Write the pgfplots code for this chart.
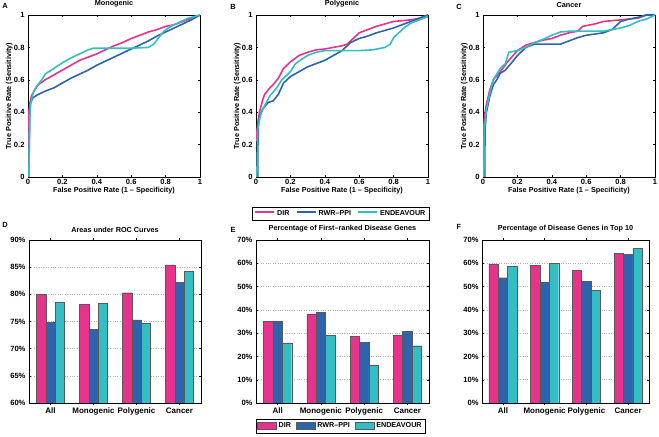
\documentclass[border=0pt]{standalone}
\usepackage{pgfplots}
\pgfplotsset{compat=1.18}
\usepackage{fontspec}
\setmainfont{Liberation Sans}

\definecolor{dirc}{RGB}{233,50,140}
\definecolor{rwrc}{RGB}{45,100,172}
\definecolor{endc}{RGB}{50,190,195}

\newcommand{\tf}{\bfseries\fontsize{7.6}{8}\selectfont}
\newcommand{\lf}{\bfseries\fontsize{7.3}{8}\selectfont}
% short coloured line used as a legend sample
\newcommand{\lsample}[1]{\textcolor{#1}{\rule[2.2bp]{19bp}{1.8bp}}\hspace{3bp}}

\pgfplotsset{
  base/.style={
    scale only axis, anchor=south west,
    tick align=inside, major tick length=2bp,
    axis line style={line width=0.5bp}, every tick/.style={line width=0.4bp, black},
    ticklabel style={font=\tf},
    xticklabel style={yshift=1bp},
    title style={font=\lf, yshift=-2bp},
    label style={font=\lf},
  },
  roc/.style={
    base, width=172bp, height=162bp,
    xmin=0, xmax=1, ymin=0, ymax=1,
    xtick={0,0.2,0.4,0.6,0.8,1}, xticklabels={0,0.2,0.4,0.6,0.8,1},
    ytick={0,0.2,0.4,0.6,0.8,1}, yticklabels={0,0.2,0.4,0.6,0.8,1},
    xlabel={False Positive Rate (1 -- Specificity)},
    ylabel={True Positive Rate (Sensitivity)},
    xlabel style={yshift=4bp}, ylabel style={yshift=-5.5bp},
  },
  dirl/.style={color=dirc, line width=1.6bp, no marks},
  rwrl/.style={color=rwrc, line width=1.6bp, no marks},
  endl/.style={color=endc, line width=1.6bp, no marks},
  bars/.style={
    base, height=163bp,
    ybar=0pt, bar width=9.4bp,
    xmin=0.5, xmax=4.5, xtick={1,2,3,4},
    xticklabels={All,Monogenic,Polygenic,Cancer},
    xticklabel style={font=\bfseries\fontsize{8}{9}\selectfont},
    ymajorgrids, grid style={dotted, gray!60, line width=0.5bp},
  },
  dirb/.style={fill=dirc, draw=black!65, line width=0.4bp},
  rwrb/.style={fill=rwrc, draw=black!65, line width=0.4bp},
  endb/.style={fill=endc, draw=black!65, line width=0.4bp},
  leg/.style={legend columns=3, anchor=center,
    font=\bfseries\fontsize{7.2}{8}\selectfont, inner sep=1.5bp,
    /tikz/every even column/.append style={column sep=3bp}},
}

\begin{document}
\begin{tikzpicture}
\useasboundingbox (0,0) rectangle (659bp,437bp);

% A
\begin{axis}[roc, at={(28bp,260bp)}, title={Monogenic}]
\addplot[dirl] coordinates {(0,0) (0.003,0.38) (0.01,0.45) (0.02,0.5) (0.04,0.54) (0.06,0.57) (0.1,0.6) (0.15,0.63) (0.2,0.66) (0.25,0.69) (0.3,0.72) (0.35,0.74) (0.4,0.76) (0.45,0.785) (0.5,0.81) (0.55,0.83) (0.6,0.855) (0.65,0.875) (0.7,0.895) (0.75,0.91) (0.8,0.93) (0.85,0.94) (0.9,0.96) (0.95,0.98) (1,1)};
\addplot[rwrl] coordinates {(0.005,0) (0.01,0.4) (0.015,0.46) (0.03,0.49) (0.06,0.51) (0.1,0.53) (0.15,0.55) (0.2,0.58) (0.25,0.61) (0.3,0.635) (0.35,0.66) (0.4,0.69) (0.45,0.715) (0.5,0.74) (0.55,0.765) (0.6,0.79) (0.65,0.815) (0.7,0.84) (0.75,0.87) (0.8,0.895) (0.85,0.92) (0.9,0.945) (0.95,0.97) (1,1)};
\addplot[endl] coordinates {(0.005,0) (0.01,0.35) (0.015,0.45) (0.03,0.52) (0.05,0.56) (0.08,0.6) (0.1,0.635) (0.15,0.67) (0.2,0.705) (0.25,0.735) (0.3,0.76) (0.35,0.785) (0.38,0.795) (0.5,0.795) (0.6,0.795) (0.7,0.8) (0.73,0.82) (0.76,0.86) (0.79,0.9) (0.83,0.93) (0.88,0.955) (0.93,0.98) (1,1)};
\end{axis}

% B
\begin{axis}[roc, at={(256bp,260bp)}, title={Polygenic},
  legend style={leg, at={(0.49,-0.225)},
    /tikz/every odd column/.append style={column sep=0bp}},
  legend image code/.code={}]
\addplot[dirl] coordinates {(0,0.22) (0.01,0.33) (0.02,0.4) (0.04,0.48) (0.05,0.51) (0.08,0.55) (0.1,0.57) (0.13,0.61) (0.16,0.67) (0.2,0.71) (0.25,0.75) (0.3,0.77) (0.35,0.785) (0.4,0.79) (0.45,0.8) (0.5,0.81) (0.53,0.82) (0.57,0.86) (0.6,0.89) (0.65,0.91) (0.7,0.93) (0.75,0.945) (0.8,0.96) (0.9,0.97) (0.95,0.98) (1,1)};
\addplot[rwrl] coordinates {(0.01,0) (0.012,0.3) (0.02,0.37) (0.04,0.42) (0.07,0.46) (0.1,0.47) (0.13,0.51) (0.16,0.58) (0.2,0.62) (0.25,0.65) (0.3,0.68) (0.35,0.7) (0.4,0.72) (0.45,0.75) (0.5,0.78) (0.55,0.83) (0.6,0.855) (0.65,0.87) (0.7,0.89) (0.75,0.905) (0.8,0.92) (0.85,0.94) (0.9,0.96) (0.95,0.98) (1,1)};
\addplot[endl] coordinates {(0.005,0) (0.01,0.3) (0.03,0.4) (0.06,0.46) (0.08,0.5) (0.12,0.55) (0.15,0.6) (0.18,0.63) (0.2,0.65) (0.23,0.7) (0.27,0.73) (0.3,0.75) (0.35,0.77) (0.4,0.78) (0.5,0.78) (0.6,0.78) (0.68,0.785) (0.75,0.8) (0.78,0.82) (0.8,0.86) (0.83,0.89) (0.86,0.92) (0.9,0.95) (0.95,0.97) (1,0.99)};
\legend{\lsample{dirc}DIR,\lsample{rwrc}RWR--PPI,\lsample{endc}ENDEAVOUR}
\end{axis}

% C
\begin{axis}[roc, at={(483bp,260bp)}, title={Cancer}]
\addplot[dirl] coordinates {(0,0) (0.003,0.3) (0.01,0.38) (0.02,0.45) (0.04,0.54) (0.06,0.6) (0.1,0.65) (0.15,0.72) (0.2,0.78) (0.25,0.815) (0.3,0.83) (0.35,0.845) (0.4,0.855) (0.45,0.875) (0.5,0.89) (0.55,0.9) (0.58,0.93) (0.65,0.945) (0.7,0.96) (0.8,0.97) (0.9,0.98) (0.95,1) (1,1)};
\addplot[rwrl] coordinates {(0.01,0) (0.012,0.3) (0.02,0.4) (0.04,0.5) (0.06,0.57) (0.08,0.6) (0.1,0.64) (0.13,0.66) (0.17,0.71) (0.2,0.75) (0.25,0.8) (0.3,0.82) (0.35,0.82) (0.45,0.82) (0.5,0.84) (0.55,0.86) (0.6,0.875) (0.7,0.89) (0.75,0.91) (0.8,0.96) (0.85,0.975) (0.9,0.985) (0.95,1) (1,1)};
\addplot[endl] coordinates {(0.005,0) (0.008,0.3) (0.02,0.42) (0.04,0.52) (0.06,0.6) (0.1,0.67) (0.13,0.7) (0.15,0.77) (0.2,0.78) (0.25,0.8) (0.3,0.83) (0.35,0.85) (0.4,0.875) (0.45,0.895) (0.5,0.9) (0.6,0.9) (0.7,0.9) (0.75,0.91) (0.8,0.92) (0.85,0.935) (0.9,0.96) (0.95,0.975) (1,1)};
\end{axis}

% D
\begin{axis}[bars, at={(29bp,34bp)}, width=172bp, title={Areas under ROC Curves},
  ymin=60, ymax=90, ytick={60,65,70,75,80,85,90},
  yticklabels={60\%,65\%,70\%,75\%,80\%,85\%,90\%}]
\addplot[dirb] coordinates {(1,80.0) (2,78.2) (3,80.3) (4,85.4)};
\addplot[rwrb] coordinates {(1,74.9) (2,73.5) (3,75.3) (4,82.2)};
\addplot[endb] coordinates {(1,78.5) (2,78.3) (3,74.7) (4,84.2)};
\end{axis}

% E
\begin{axis}[bars, at={(256bp,34bp)}, width=173bp, title={Percentage of First--ranked Disease Genes},
  ymin=0, ymax=70, ytick={0,10,20,30,40,50,60,70},
  yticklabels={0\%,10\%,20\%,30\%,40\%,50\%,60\%,70\%},
  legend style={leg, at={(0.488,-0.141)}},
  legend image code/.code={\draw[#1] (0bp,-3.5bp) rectangle (19bp,3.5bp);}]
\addplot[dirb] coordinates {(1,35.0) (2,38.3) (3,28.5) (4,29.3)};
\addplot[rwrb] coordinates {(1,35.1) (2,38.9) (3,25.9) (4,30.8)};
\addplot[endb] coordinates {(1,25.8) (2,29.0) (3,16.3) (4,24.6)};
\legend{DIR,RWR--PPI,ENDEAVOUR}
\end{axis}

% F
\begin{axis}[bars, at={(482bp,34bp)}, width=167bp, title={Percentage of Disease Genes in Top 10},
  ymin=0, ymax=70, ytick={0,10,20,30,40,50,60,70},
  yticklabels={0\%,10\%,20\%,30\%,40\%,50\%,60\%,70\%}]
\addplot[dirb] coordinates {(1,59.6) (2,59.2) (3,57.0) (4,64.4)};
\addplot[rwrb] coordinates {(1,53.8) (2,52.0) (3,52.2) (4,63.7)};
\addplot[endb] coordinates {(1,58.8) (2,60.0) (3,48.4) (4,66.5)};
\end{axis}

% panel letters
\begin{scope}[every node/.style={font=\bfseries\fontsize{7.5}{8}\selectfont, inner sep=0pt}]
\node at (5bp,431bp) {A};
\node at (233bp,430bp) {B};
\node at (459bp,430bp) {C};
\node at (5bp,212bp) {D};
\node at (233bp,207bp) {E};
\node at (459bp,210bp) {F};
\end{scope}
\end{tikzpicture}
\end{document}
